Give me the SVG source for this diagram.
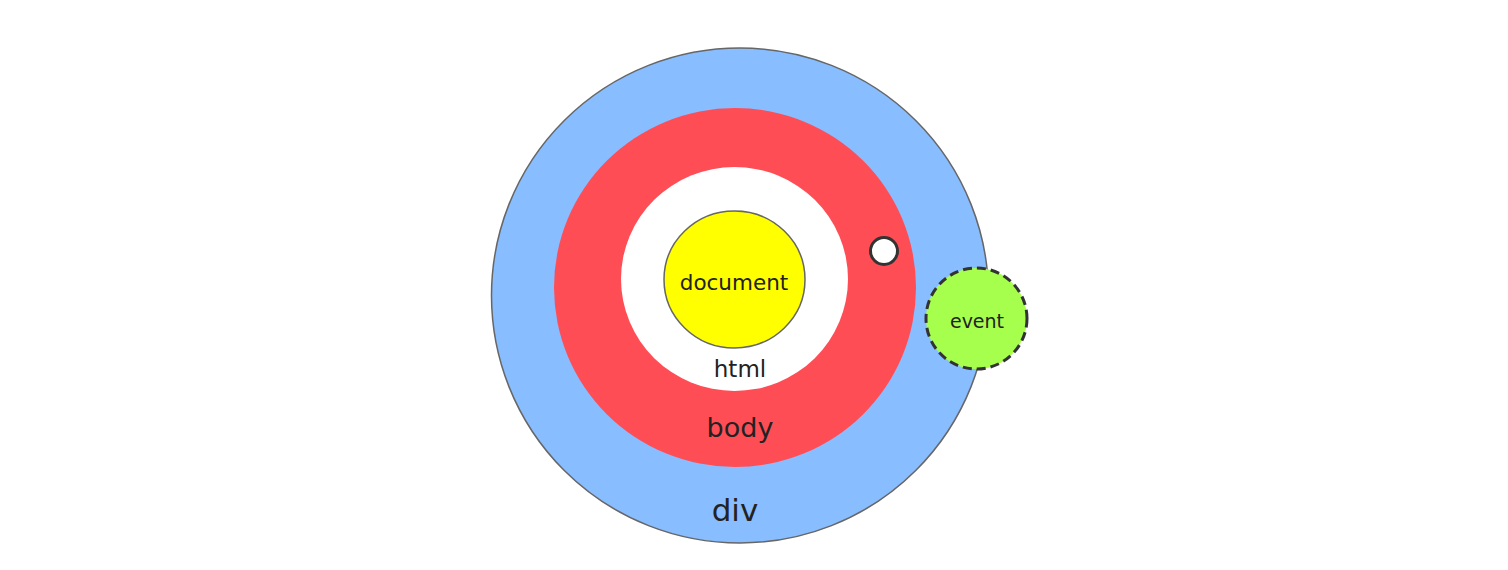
<svg xmlns="http://www.w3.org/2000/svg" width="1508" height="570" viewBox="0 0 1508 570">
  <style>
    .lbl { font-family: "Comic Sans MS", "DejaVu Sans", sans-serif; fill: #222222; text-anchor: middle; }
  </style>
  <rect x="0" y="0" width="1508" height="570" fill="#ffffff"/>
  <g id="div">
    <ellipse cx="740" cy="295.5" rx="248.5" ry="247.5" fill="#88bdff" stroke="#666666" stroke-width="1.5"/>
    <text class="lbl" x="735" y="521" font-size="31">div</text>
  </g>
  <g id="body">
    <ellipse cx="735" cy="287.5" rx="181" ry="179.5" fill="#ff4d55"/>
    <text class="lbl" x="740" y="437" font-size="27">body</text>
  </g>
  <g id="html">
    <ellipse cx="734.5" cy="279" rx="113.5" ry="112" fill="#ffffff"/>
    <text class="lbl" x="740" y="377" font-size="23">html</text>
  </g>
  <g id="document">
    <ellipse cx="734.5" cy="279.5" rx="70.5" ry="68.5" fill="#ffff00" stroke="#666666" stroke-width="1.5"/>
    <text class="lbl" x="734" y="290" font-size="21.5">document</text>
  </g>
  <g id="target">
    <circle cx="884" cy="251" r="13.5" fill="#ffffff" stroke="#333333" stroke-width="3"/>
  </g>
  <g id="event">
    <circle cx="976.5" cy="318.5" r="50.5" fill="#a6ff4d" stroke="#333333" stroke-width="3" stroke-dasharray="9 5"/>
    <text class="lbl" x="977" y="328" font-size="19">event</text>
  </g>
  <g id="connectors"/>
</svg>
